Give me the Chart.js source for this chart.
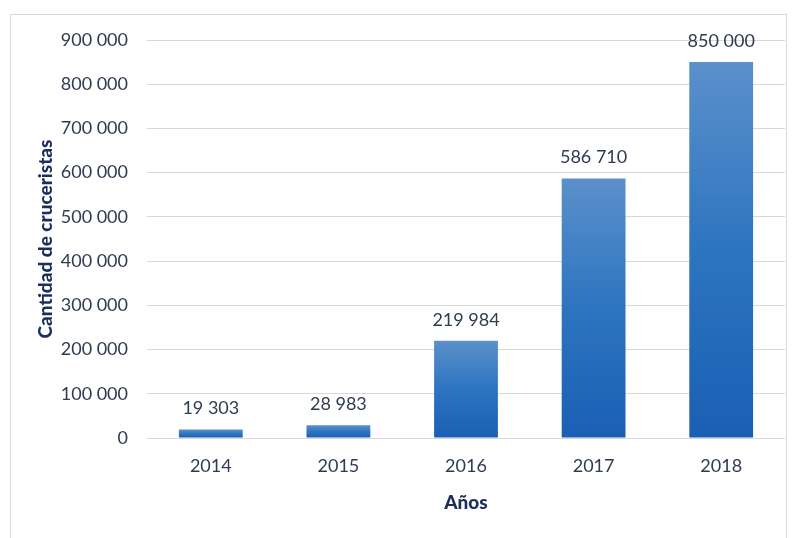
<!DOCTYPE html>
<html lang="es">
<head>
  <meta charset="UTF-8">
  <title>Cruceristas</title>
  <script src="https://cdn.jsdelivr.net/npm/chart.js@4.4.1/dist/chart.umd.min.js"></script>
  <style>
    html, body { margin: 0; padding: 0; background: #fff; }
    #wrap { position: relative; width: 797px; height: 538px; }
    #frame {
      position: absolute; left: 10px; top: 14px; width: 777px; height: 540px;
      border: 1px solid #d9d9d9; box-sizing: border-box;
    }
    canvas { position: absolute; left: 0; top: 0; }
  </style>
</head>
<body>
  <div id="wrap">
    <div id="frame"></div>
    <canvas id="chart" width="797" height="538"></canvas>
  </div>

  <script>
    // datos
    var years = ["2014", "2015", "2016", "2017", "2018"];
    var cruceristas = [19303, 28983, 219984, 586710, 850000];
    var yTicks = [0, 100000, 200000, 300000, 400000, 500000, 600000, 700000, 800000, 900000];

    function fmt(n) {
      // separador de miles con espacio
      return String(n).replace(/\B(?=(\d{3})+(?!\d))/g, " ");
    }

    // gradiente por barra (claro arriba, oscuro abajo)
    function barFill(ctx) {
      var chart = ctx.chart;
      if (!chart.chartArea) return "#2e6fba";
      var y = chart.scales.y;
      var top = y.getPixelForValue(ctx.raw);
      var bottom = y.getPixelForValue(0);
      if (!(bottom > top)) return "#2e6fba";
      var g = chart.ctx.createLinearGradient(0, top, 0, bottom);
      g.addColorStop(0, "#5b90cb");
      g.addColorStop(0.5, "#2d74c0");
      g.addColorStop(1, "#1a5fb4");
      return g;
    }

    var valueLabels = {
      id: "valueLabels",
      afterDatasetsDraw: function (chart) {
        var c = chart.ctx;
        var meta = chart.getDatasetMeta(0);
        c.save();
        c.font = "18px Lato";
        c.fillStyle = "#2e3b52";
        c.textAlign = "center";
        c.textBaseline = "bottom";
        meta.data.forEach(function (bar, i) {
          c.fillText(fmt(cruceristas[i]), bar.x, bar.y - 12);
        });
        c.restore();
      }
    };

    new Chart("chart", {
      type: "bar",
      data: {
        labels: years,
        datasets: [{
          data: cruceristas,
          backgroundColor: barFill,
          borderWidth: 0,
          barPercentage: 0.5,
          categoryPercentage: 1.0
        }]
      },
      options: {
        responsive: false,
        animation: false,
        layout: { padding: { left: 30, right: 12, top: 40, bottom: 20 } },
        plugins: {
          legend: { display: false },
          tooltip: { enabled: false }
        },
        scales: {
          x: {
            grid: { display: false, drawTicks: false },
            border: { display: false },
            ticks: { color: "#2e3b52", font: { family: "Lato", size: 18 }, padding: 17 },
            title: {
              display: true, text: "Años", color: "#1b2f5e",
              font: { family: "Lato", size: 19, weight: "900" }
            },
            afterFit: function (s) { s.height = 80; }
          },
          y: {
            min: 0, max: 900000,
            afterBuildTicks: function (s) { s.ticks = yTicks.map(function (v) { return { value: v }; }); },
            grid: { color: "#d9d9d9", drawTicks: false },
            border: { display: false },
            ticks: {
              color: "#2e3b52", font: { family: "Lato", size: 18 }, padding: 19,
              callback: function (v) { return fmt(v); }
            },
            title: {
              display: true, text: "Cantidad de cruceristas", color: "#1b2f5e",
              font: { family: "Lato", size: 19, weight: "900" }
            },
            afterFit: function (s) { s.width = 117; }
          }
        }
      },
      plugins: [valueLabels]
    });
  </script>
</body>
</html>
